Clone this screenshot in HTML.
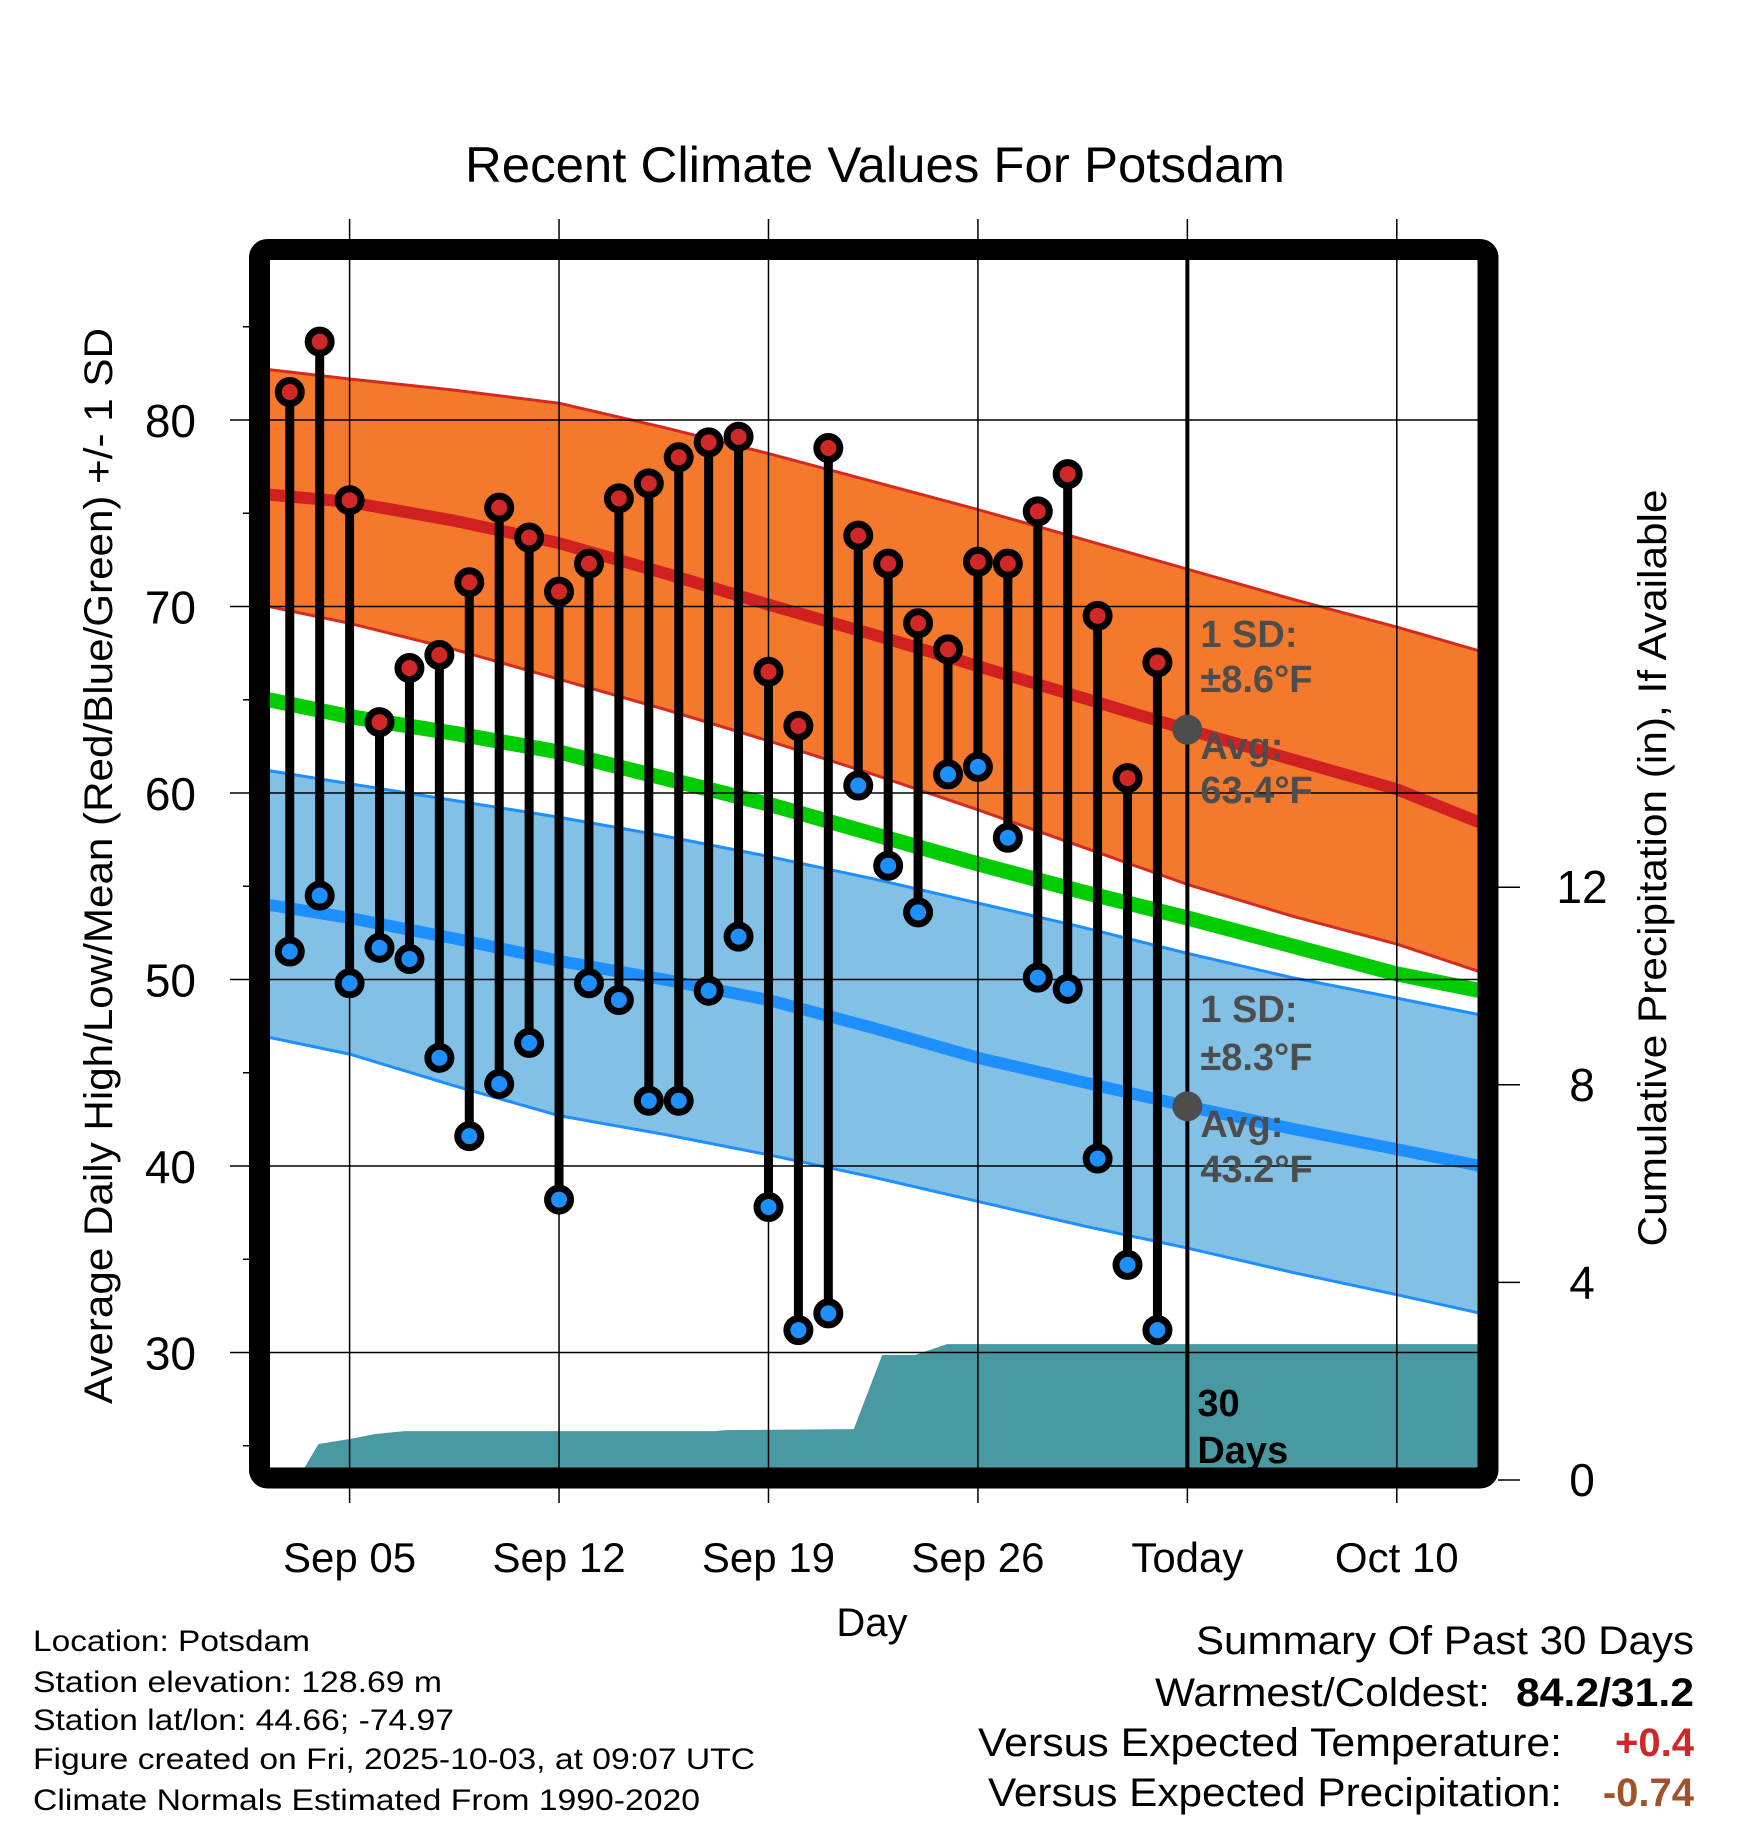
<!DOCTYPE html>
<html><head><meta charset="utf-8"><style>
html,body{margin:0;padding:0;background:#fff;}
svg{display:block;font-family:"Liberation Sans",sans-serif;}
</style></head><body>
<svg id="chart" width="1748" height="1828" viewBox="0 0 1748 1828" xmlns="http://www.w3.org/2000/svg">
<defs><clipPath id="plotclip"><rect x="270" y="260" width="1208" height="1208"/></clipPath></defs>
<rect width="1748" height="1828" fill="#fff"/>
<text x="875" y="182" font-size="50" text-anchor="middle" textLength="820" lengthAdjust="spacingAndGlyphs">Recent Climate Values For Potsdam</text>
<g id="bands" clip-path="url(#plotclip)"></g>
<g id="grid"></g>
<g id="marks" clip-path="url(#plotclip)"></g>
<g id="annot"></g>
<rect x="259.5" y="249.5" width="1228.5" height="1228.5" rx="8" fill="none" stroke="#000" stroke-width="21"/>
<g id="axes"></g>
<text transform="translate(112,866) rotate(-90)" font-size="40" text-anchor="middle" textLength="1076" lengthAdjust="spacingAndGlyphs">Average Daily High/Low/Mean (Red/Blue/Green) +/- 1 SD</text>
<text transform="translate(1666,868) rotate(-90)" font-size="40" text-anchor="middle" textLength="757" lengthAdjust="spacingAndGlyphs">Cumulative Precipitation (in), If Available</text>
<text x="872" y="1636" font-size="40" text-anchor="middle">Day</text>
<g font-size="30">
<text x="33" y="1651" textLength="277" lengthAdjust="spacingAndGlyphs">Location: Potsdam</text>
<text x="33" y="1692" textLength="409" lengthAdjust="spacingAndGlyphs">Station elevation: 128.69 m</text>
<text x="33" y="1730" textLength="421" lengthAdjust="spacingAndGlyphs">Station lat/lon: 44.66; -74.97</text>
<text x="33" y="1769" textLength="722" lengthAdjust="spacingAndGlyphs">Figure created on Fri, 2025-10-03, at 09:07 UTC</text>
<text x="33" y="1810" textLength="667" lengthAdjust="spacingAndGlyphs">Climate Normals Estimated From 1990-2020</text>
</g>
<g font-size="40">
<text x="1694" y="1654" text-anchor="end" textLength="498" lengthAdjust="spacingAndGlyphs">Summary Of Past 30 Days</text>
<text x="1490" y="1706" text-anchor="end" textLength="335" lengthAdjust="spacingAndGlyphs">Warmest/Coldest:</text>
<text x="1694" y="1706" text-anchor="end" font-weight="bold" textLength="178" lengthAdjust="spacingAndGlyphs">84.2/31.2</text>
<text x="1562" y="1756" text-anchor="end" textLength="584" lengthAdjust="spacingAndGlyphs">Versus Expected Temperature:</text>
<text x="1694" y="1756" text-anchor="end" font-weight="bold" fill="#d02828">+0.4</text>
<text x="1562" y="1806" text-anchor="end" textLength="574" lengthAdjust="spacingAndGlyphs">Versus Expected Precipitation:</text>
<text x="1694" y="1806" text-anchor="end" font-weight="bold" fill="#a0522d">-0.74</text>
</g>
</svg>
<script>
// Observed data (day of September; 31 = Oct 1)
const obsDays = [3,4,5,6,7,8,9,10,11,12,13,14,15,16,17,18,19,20,21,22,23,24,25,26,27,28,29,30,31,32];
const highs = [81.5,84.2,75.7,63.8,66.7,67.4,71.3,75.3,73.7,70.8,72.3,75.8,76.6,78.0,78.8,79.1,66.5,63.6,78.5,73.8,72.3,69.1,67.7,72.4,72.3,75.1,77.1,69.5,60.8,67.0];
const lows = [51.5,54.5,49.8,51.7,51.1,45.8,41.6,44.4,46.6,38.2,49.8,48.9,43.5,43.5,49.4,52.3,37.8,31.2,32.1,60.4,56.1,53.6,61.0,61.4,57.6,50.1,49.5,40.4,34.7,31.2];
// Normals
const normDays = [2.3,5,8.5,12,15.5,19,22.5,26,29.5,33,36.5,40,42.8];
const highMean = [76.0,75.6,74.6,73.4,71.8,70.1,68.5,66.8,65.1,63.4,61.8,60.2,58.4];
const highUpper = [82.7,82.2,81.6,80.9,79.6,78.2,76.7,75.2,73.6,72.0,70.4,68.9,67.6];
const highLower = [70.0,69.1,67.7,66.1,64.5,62.8,61.0,59.1,57.1,55.1,53.4,51.9,50.4];
const meanNormal = [65.0,64.1,63.2,62.2,60.8,59.4,57.8,56.2,54.7,53.3,51.8,50.3,49.4];
const lowMean = [54.0,53.3,52.2,51.0,50.0,48.9,47.4,45.8,44.5,43.2,42.0,40.9,40.0];
const lowUpper = [61.2,60.5,59.6,58.7,57.7,56.6,55.4,54.1,52.8,51.4,50.1,49.0,48.1];
const lowLower = [46.9,46.0,44.3,42.7,41.7,40.6,39.4,38.1,36.8,35.6,34.3,33.1,32.1];
// Cumulative precipitation
const precipDays = [3.25,3.96,5.0,5.87,6.83,17.2,17.6,21.85,22.8,23.9,24.97,42.8];
const precipVals = [0,0.73,0.83,0.93,0.99,0.99,1.01,1.03,2.53,2.53,2.75,2.75];
// Ticks
const yTicks = [30,40,50,60,70,80];
const yMinor = [25,35,45,55,65,75,85];
const y2Ticks = [0,4,8,12];
const xTickDays = [5,12,19,26,33,40];
const xTickLabels = ["Sep 05","Sep 12","Sep 19","Sep 26","Today","Oct 10"];
const todayDay = 33;
const todayHighAvg = 63.4, todayLowAvg = 43.2;

const NS="http://www.w3.org/2000/svg";
const X = d => 349.6 + (d-5)*29.92;
const Y = v => 420 + (80-v)*18.65;
const Y2 = v => 1480 - v*49.4;
function mk(tag, attrs, parent){const e=document.createElementNS(NS,tag);for(const k in attrs)e.setAttribute(k,attrs[k]);parent.appendChild(e);return e;}
const bands=document.getElementById('bands'), grid=document.getElementById('grid'), marks=document.getElementById('marks'), axes=document.getElementById('axes'), annot=document.getElementById('annot');
function linePts(arr){return normDays.map((d,i)=>X(d)+','+Y(arr[i])).join(' ');}
function bandPts(up,lo){return normDays.map((d,i)=>X(d)+','+Y(up[i])).concat(normDays.slice().reverse().map((d,i)=>X(d)+','+Y(lo[lo.length-1-i]))).join(' ');}

let e;
e=mk('polygon',{points:bandPts(highUpper,highLower),fill:'#f5792d'},bands);


e=mk('polygon',{points:bandPts(lowUpper,lowLower),fill:'#82c0e6'},bands);


[[highUpper,'#d42a20',3,'high-upper-line'],[highLower,'#d42a20',3,'high-lower-line'],[lowUpper,'#1e8fff',3,'low-upper-line'],[lowLower,'#1e8fff',3,'low-lower-line'],[highMean,'#d02020',12,'high-mean-line'],[lowMean,'#1e8fff',12,'low-mean-line'],[meanNormal,'#00cc00',15,'mean-normal-line']].forEach(s=>{
  e=mk('polyline',{points:linePts(s[0]),fill:'none',stroke:s[1],'stroke-width':s[2],'stroke-linejoin':'round'},bands);
  
  
});
// precip
const pp=[X(precipDays[0])+',1468'].concat(precipDays.map((d,i)=>X(d)+','+Y2(precipVals[i]))).concat([X(precipDays[precipDays.length-1])+',1470']);
e=mk('polygon',{points:pp.join(' '),fill:'#4899a2'},bands);



// grid
yTicks.forEach(v=>{
  e=mk('line',{x1:230,x2:1478,y1:Y(v),y2:Y(v),stroke:'#000','stroke-width':1.5},grid);
  
  
  e=mk('text',{x:196,y:Y(v)+17,'font-size':46,'text-anchor':'end'},axes);
  e.textContent=v;
  
  
});
yMinor.forEach(v=>{
  e=mk('line',{x1:243,x2:250,y1:Y(v),y2:Y(v),stroke:'#000','stroke-width':1.5},grid);
  
  
});
xTickDays.forEach((d,i)=>{
  e=mk('line',{x1:X(d),x2:X(d),y1:219,y2:1503,stroke:'#000','stroke-width':1.5},grid);
  
  
  e=mk('text',{x:X(d),y:1572,'font-size':42,'text-anchor':'middle'},axes);
  e.textContent=xTickLabels[i];
  
  
});
y2Ticks.forEach(v=>{
  e=mk('line',{x1:1498,x2:1520,y1:Y2(v),y2:Y2(v),stroke:'#000','stroke-width':1.5},axes);
  
  
  e=mk('text',{x:1582,y:Y2(v)+16,'font-size':46,'text-anchor':'middle'},axes);
  e.textContent=v;
  
  
});

// stems and points
obsDays.forEach((d,i)=>{
  e=mk('line',{x1:X(d),x2:X(d),y1:Y(highs[i]),y2:Y(lows[i]),stroke:'#000','stroke-width':9},marks);
  
  
});
obsDays.forEach((d,i)=>{
  e=mk('circle',{cx:X(d),cy:Y(highs[i]),r:11.5,fill:'#d02828',stroke:'#000','stroke-width':7},marks);
  
  
  e=mk('circle',{cx:X(d),cy:Y(lows[i]),r:11.5,fill:'#1e8fff',stroke:'#000','stroke-width':7},marks);
  
  
});
// today line
e=mk('line',{x1:X(todayDay),x2:X(todayDay),y1:260,y2:1468,stroke:'#000','stroke-width':4},annot);


e=mk('circle',{cx:X(todayDay),cy:Y(todayHighAvg),r:15,fill:'#4d4d4d'},annot);


e=mk('circle',{cx:X(todayDay),cy:Y(todayLowAvg),r:15,fill:'#4d4d4d'},annot);


const labels=[["1 SD:",647,'high-sd-label'],["±8.6°F",692,'high-sd-value'],["Avg:",759,'high-avg-label'],["63.4°F",803,'high-avg-value'],["1 SD:",1022,'low-sd-label'],["±8.3°F",1070,'low-sd-value'],["Avg:",1137,'low-avg-label'],["43.2°F",1182,'low-avg-value']];
labels.forEach(l=>{
  e=mk('text',{x:X(todayDay)+13,y:l[1],'font-size':38,'font-weight':'bold',fill:'#4d4d4d'},annot);
  e.textContent=l[0];
  
  
});
e=mk('text',{x:X(todayDay)+10,y:1416,'font-size':38,'font-weight':'bold',fill:'#000'},annot);
e.textContent='30';


e=mk('text',{x:X(todayDay)+10,y:1463,'font-size':38,'font-weight':'bold',fill:'#000'},annot);
e.textContent='Days';


</script>
</body></html>
